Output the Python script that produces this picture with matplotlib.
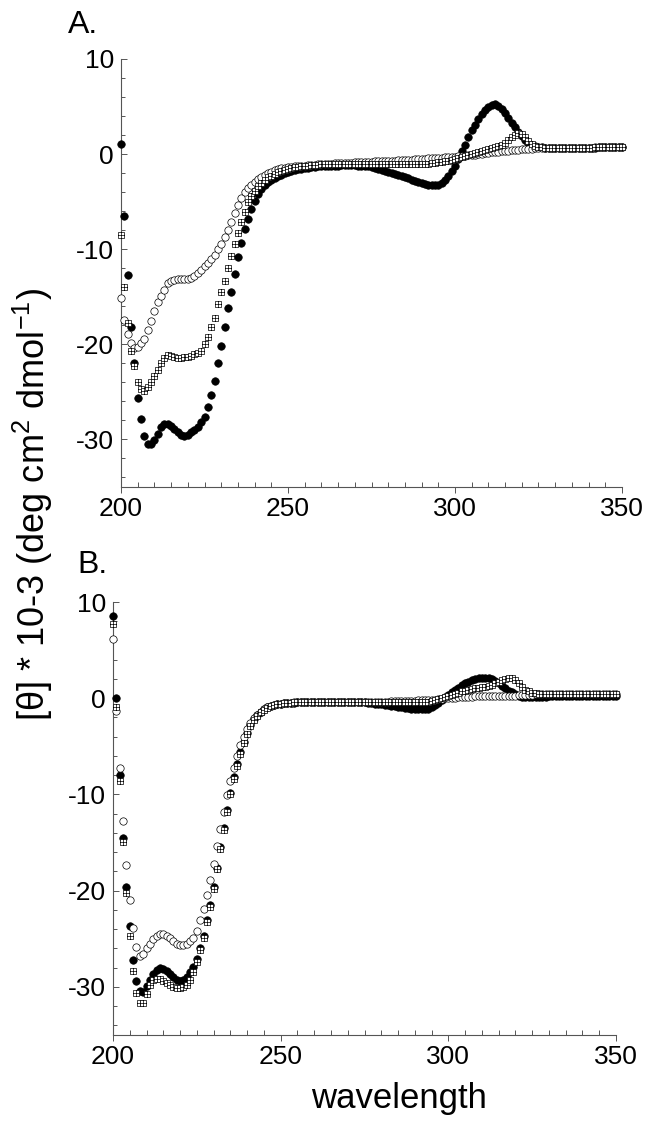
import numpy as np
import matplotlib
matplotlib.use("Agg")
import matplotlib.pyplot as plt
from matplotlib.path import Path
from matplotlib.ticker import MultipleLocator

plt.rcParams["font.family"] = ["Liberation Sans", "DejaVu Sans"]
plt.rcParams["axes.unicode_minus"] = False
plt.rcParams["mathtext.fontset"] = "custom"
plt.rcParams["mathtext.rm"] = "Liberation Sans"

# wavelength grid (nm), one point per nm
wl = np.arange(200, 351)

# ---- panel A ----
a_filled = [
    1.1, -6.5, -12.7, -18.2, -22.0, -25.6, -27.9, -29.6, -30.5, -30.5,
    -30.1, -29.4, -28.7, -28.4, -28.4, -28.6, -28.9, -29.2, -29.5, -29.6,
    -29.5, -29.2, -29.0, -28.7, -28.2, -27.6, -26.6, -25.3, -23.9, -22.0,
    -20.2, -18.2, -16.2, -14.5, -12.6, -10.8, -9.3, -7.9, -6.8, -5.75,
    -4.9, -4.2, -3.7, -3.3, -2.95, -2.7, -2.5, -2.3, -2.15, -2.0,
    -1.9, -1.8, -1.7, -1.6, -1.55, -1.5, -1.45, -1.4, -1.35, -1.3,
    -1.3, -1.25, -1.25, -1.2, -1.2, -1.2, -1.15, -1.15, -1.15, -1.15,
    -1.15, -1.2, -1.2, -1.25, -1.3, -1.4, -1.5, -1.6, -1.7, -1.8,
    -1.9, -2.0, -2.1, -2.2, -2.3, -2.4, -2.55, -2.7, -2.8, -2.95,
    -3.05, -3.15, -3.25, -3.3, -3.3, -3.2, -3.0, -2.7, -2.3, -1.8,
    -1.2, -0.5, 0.3, 1.0, 1.8, 2.5, 3.1, 3.7, 4.2, 4.6,
    5.0, 5.2, 5.3, 5.1, 4.7, 4.3, 3.8, 3.3, 2.8, 2.3,
    1.9, 1.5, 1.2, 1.0, 0.85, 0.75, 0.7, 0.65, 0.65, 0.6,
    0.6, 0.6, 0.6, 0.6, 0.6, 0.6, 0.6, 0.6, 0.65, 0.65,
    0.65, 0.65, 0.65, 0.7, 0.7, 0.7, 0.7, 0.75, 0.75, 0.75,
    0.8]
a_open = [
    -15.1, -17.4, -18.9, -19.9, -20.4, -20.3, -19.9, -19.4, -18.5, -17.5,
    -16.5, -15.6, -14.9, -14.3, -13.6, -13.3, -13.2, -13.1, -13.1, -13.1,
    -13.1, -13.0, -12.8, -12.5, -12.2, -11.8, -11.5, -11.0, -10.6, -10.0,
    -9.4, -8.7, -8.0, -7.1, -6.2, -5.3, -4.6, -4.0, -3.6, -3.2,
    -2.9, -2.6, -2.4, -2.2, -2.0, -1.85, -1.7, -1.6, -1.5, -1.45,
    -1.4, -1.35, -1.3, -1.25, -1.2, -1.2, -1.15, -1.1, -1.1, -1.05,
    -1.05, -1.0, -1.0, -1.0, -0.95, -0.95, -0.95, -0.9, -0.9, -0.9,
    -0.85, -0.85, -0.8, -0.8, -0.8, -0.8, -0.75, -0.75, -0.75, -0.75,
    -0.7, -0.7, -0.7, -0.65, -0.65, -0.6, -0.6, -0.6, -0.55, -0.55,
    -0.5, -0.5, -0.45, -0.45, -0.45, -0.4, -0.4, -0.35, -0.35, -0.3,
    -0.3, -0.25, -0.2, -0.15, -0.1, -0.1, -0.05, 0.0, 0.05, 0.1,
    0.15, 0.2, 0.2, 0.25, 0.3, 0.35, 0.35, 0.4, 0.45, 0.45,
    0.5, 0.5, 0.55, 0.55, 0.6, 0.6, 0.6, 0.6, 0.6, 0.6,
    0.6, 0.6, 0.6, 0.6, 0.6, 0.6, 0.65, 0.65, 0.65, 0.65,
    0.65, 0.65, 0.7, 0.7, 0.7, 0.7, 0.75, 0.75, 0.75, 0.75,
    0.8]
a_square = [
    -8.5, -14.0, -17.8, -20.7, -22.3, -24.0, -24.7, -24.9, -24.5, -24.0,
    -23.3, -22.7, -22.0, -21.4, -21.1, -21.2, -21.3, -21.4, -21.4, -21.3,
    -21.3, -21.2, -21.0, -20.9, -20.7, -20.0, -19.2, -18.2, -17.2, -15.8,
    -14.5, -13.3, -12.0, -10.7, -9.5, -8.3, -7.1, -6.1, -5.05, -4.4,
    -3.9, -3.4, -3.0, -2.7, -2.45, -2.25, -2.05, -1.9, -1.75, -1.65,
    -1.55, -1.45, -1.4, -1.35, -1.3, -1.25, -1.2, -1.15, -1.1, -1.1,
    -1.05, -1.0, -1.0, -1.0, -1.0, -1.0, -1.0, -1.0, -1.0, -1.0,
    -1.0, -1.05, -1.05, -1.05, -1.05, -1.05, -1.05, -1.05, -1.05, -1.05,
    -1.05, -1.05, -1.05, -1.05, -1.05, -1.05, -1.0, -1.0, -1.0, -1.0,
    -1.0, -1.0, -1.0, -0.95, -0.9, -0.85, -0.8, -0.75, -0.7, -0.6,
    -0.5, -0.4, -0.3, -0.2, -0.1, 0.0, 0.1, 0.2, 0.3, 0.4,
    0.5, 0.6, 0.7, 0.85, 1.0, 1.2, 1.45, 1.75, 2.05, 2.25,
    2.15, 1.8, 1.4, 1.1, 0.9, 0.75, 0.7, 0.65, 0.65, 0.65,
    0.65, 0.65, 0.65, 0.65, 0.65, 0.65, 0.65, 0.65, 0.65, 0.65,
    0.65, 0.65, 0.7, 0.7, 0.7, 0.7, 0.75, 0.75, 0.75, 0.8,
    0.8]

# ---- panel B ----
b_filled = [
    8.5, 0.0, -8.0, -14.5, -19.6, -23.7, -27.2, -29.4, -30.4, -30.5,
    -29.9, -29.3, -28.7, -28.2, -28.0, -28.1, -28.4, -28.7, -29.0, -29.3,
    -29.4, -29.3, -29.0, -28.5, -27.9, -27.1, -26.0, -24.7, -23.1, -21.5,
    -19.6, -17.6, -15.5, -13.5, -11.6, -9.8, -8.2, -6.8, -5.6, -4.5,
    -3.6, -2.8, -2.2, -1.75, -1.4, -1.15, -0.95, -0.8, -0.7, -0.6,
    -0.55, -0.5, -0.5, -0.45, -0.45, -0.4, -0.4, -0.4, -0.4, -0.4,
    -0.35, -0.35, -0.35, -0.35, -0.35, -0.35, -0.35, -0.35, -0.35, -0.35,
    -0.35, -0.35, -0.35, -0.35, -0.4, -0.4, -0.45, -0.5, -0.55, -0.6,
    -0.65, -0.7, -0.75, -0.8, -0.85, -0.9, -0.95, -1.0, -1.05, -1.1,
    -1.1, -1.15, -1.15, -1.15, -1.1, -0.95, -0.75, -0.5, -0.2, 0.1,
    0.35, 0.6, 0.85, 1.1, 1.35, 1.55, 1.7, 1.85, 1.95, 2.05,
    2.1, 2.15, 2.1, 2.0, 1.8, 1.55, 1.3, 1.05, 0.8, 0.6,
    0.4, 0.25, 0.15, 0.1, 0.1, 0.15, 0.15, 0.15, 0.15, 0.15,
    0.2, 0.2, 0.2, 0.2, 0.2, 0.2, 0.2, 0.2, 0.2, 0.2,
    0.2, 0.2, 0.2, 0.2, 0.25, 0.25, 0.25, 0.25, 0.25, 0.25,
    0.25]
b_open = [
    6.2, -1.3, -7.3, -12.8, -17.3, -21.0, -23.9, -25.9, -26.8, -26.6,
    -26.0, -25.5, -25.0, -24.7, -24.5, -24.5, -24.7, -24.9, -25.2, -25.5,
    -25.6, -25.6, -25.5, -25.2, -24.9, -24.2, -23.1, -21.9, -20.5, -18.9,
    -17.2, -15.4, -13.6, -11.8, -10.1, -8.6, -7.2, -6.0, -4.9, -4.0,
    -3.2, -2.6, -2.1, -1.7, -1.4, -1.15, -0.95, -0.8, -0.7, -0.6,
    -0.55, -0.5, -0.45, -0.45, -0.4, -0.4, -0.4, -0.35, -0.35, -0.35,
    -0.35, -0.35, -0.35, -0.35, -0.35, -0.35, -0.35, -0.35, -0.35, -0.35,
    -0.35, -0.35, -0.35, -0.35, -0.35, -0.35, -0.35, -0.35, -0.35, -0.35,
    -0.35, -0.35, -0.35, -0.3, -0.3, -0.3, -0.3, -0.3, -0.25, -0.25,
    -0.25, -0.2, -0.2, -0.2, -0.2, -0.15, -0.15, -0.1, -0.05, 0.0,
    0.0, 0.05, 0.05, 0.1, 0.1, 0.15, 0.15, 0.15, 0.2, 0.2,
    0.2, 0.2, 0.2, 0.2, 0.2, 0.2, 0.2, 0.25, 0.25, 0.25,
    0.25, 0.3, 0.3, 0.3, 0.35, 0.35, 0.4, 0.4, 0.4, 0.45,
    0.45, 0.45, 0.45, 0.45, 0.45, 0.45, 0.45, 0.45, 0.45, 0.45,
    0.45, 0.45, 0.45, 0.45, 0.45, 0.45, 0.45, 0.45, 0.45, 0.45,
    0.45]
b_square = [
    7.7, -0.9, -8.6, -14.9, -20.2, -24.7, -28.3, -30.6, -31.7, -31.7,
    -30.7, -29.8, -29.3, -29.2, -29.2, -29.4, -29.6, -29.8, -30.0, -30.1,
    -30.1, -30.0, -29.8, -29.3, -28.5, -27.4, -26.2, -24.9, -23.3, -21.7,
    -19.8, -17.8, -15.7, -13.7, -11.8, -10.0, -8.4, -7.0, -5.8, -4.7,
    -3.7, -2.9, -2.3, -1.8, -1.45, -1.2, -1.0, -0.85, -0.7, -0.6,
    -0.55, -0.5, -0.45, -0.45, -0.4, -0.4, -0.4, -0.4, -0.4, -0.4,
    -0.4, -0.4, -0.4, -0.4, -0.4, -0.4, -0.4, -0.4, -0.4, -0.4,
    -0.4, -0.4, -0.4, -0.4, -0.4, -0.4, -0.4, -0.4, -0.4, -0.4,
    -0.4, -0.4, -0.4, -0.4, -0.4, -0.4, -0.4, -0.4, -0.4, -0.4,
    -0.4, -0.4, -0.4, -0.35, -0.35, -0.3, -0.2, -0.1, 0.0, 0.1,
    0.2, 0.3, 0.45, 0.55, 0.7, 0.8, 0.9, 1.0, 1.05, 1.1,
    1.15, 1.2, 1.3, 1.4, 1.55, 1.7, 1.85, 1.95, 2.05, 2.05,
    1.85, 1.55, 1.2, 0.9, 0.7, 0.55, 0.5, 0.45, 0.45, 0.45,
    0.45, 0.45, 0.45, 0.45, 0.45, 0.45, 0.45, 0.45, 0.45, 0.45,
    0.45, 0.45, 0.45, 0.45, 0.45, 0.45, 0.45, 0.45, 0.45, 0.45,
    0.45]

# square with a cross inside
boxplus = Path([(-1, -1), (1, -1), (1, 1), (-1, 1), (-1, -1),
                (0, -1), (0, 1), (-1, 0), (1, 0)],
               [Path.MOVETO, Path.LINETO, Path.LINETO, Path.LINETO, Path.CLOSEPOLY,
                Path.MOVETO, Path.LINETO, Path.MOVETO, Path.LINETO])

AX_COL = "#555555"


def panel(ax, filled, opn, sq):
    ax.plot(wl, filled, ls="none", marker="o", ms=5.4, mfc="black", mec="black",
            mew=0.5, clip_on=False, zorder=3)
    ax.plot(wl, opn, ls="none", marker="o", ms=5.3, mfc="white", mec="black",
            mew=0.5, clip_on=False, zorder=4)
    ax.plot(wl, sq, ls="none", marker=boxplus, ms=4.9, mfc="white", mec="black",
            mew=0.5, clip_on=False, zorder=5)
    ax.set_xlim(200, 350)
    ax.set_ylim(-35, 10)
    ax.set_xticks([200, 250, 300, 350])
    ax.set_yticks([-30, -20, -10, 0, 10])
    ax.xaxis.set_minor_locator(MultipleLocator(5))
    ax.yaxis.set_minor_locator(MultipleLocator(2))
    for s in ("top", "right"):
        ax.spines[s].set_visible(False)
    for s in ("left", "bottom"):
        ax.spines[s].set_color(AX_COL)
        ax.spines[s].set_linewidth(0.8)
    ax.tick_params(axis="y", which="major", direction="in", length=4.5, width=0.7,
                   color=AX_COL, labelsize=19, pad=5)
    ax.tick_params(axis="y", which="minor", direction="in", length=3, width=0.7,
                   color=AX_COL)
    ax.tick_params(axis="x", which="major", direction="out", length=4, width=0.7,
                   color=AX_COL, labelsize=19, pad=3)
    ax.tick_params(axis="x", which="minor", direction="in", length=3.5, width=0.7,
                   color=AX_COL)
    ax.set_facecolor("none")


fig = plt.figure(figsize=(6.48, 11.34), dpi=100)
W, H = 648, 1134
axA = fig.add_axes([121 / W, 1 - 487 / H, 501 / W, 428 / H])
axB = fig.add_axes([113 / W, 1 - 1035 / H, 503 / W, 433 / H])
panel(axA, a_filled, a_open, a_square)
panel(axB, b_filled, b_open, b_square)

fig.text(68 / W, 1 - 33 / H, "A.", fontsize=23, ha="left", va="baseline")
fig.text(77 / W, 1 - 573 / H, "B.", fontsize=23, ha="left", va="baseline")
fig.text(399 / W, 1 - 1108 / H, "wavelength", fontsize=25, ha="center", va="baseline")
fig.text(33 / W, 1 - 505 / H, r"[θ] * 10-3 (deg cm$^{2}$ dmol$^{-1}$)", fontsize=26,
         rotation=90, ha="center", va="center")

fig.savefig("out.png", dpi=100)
